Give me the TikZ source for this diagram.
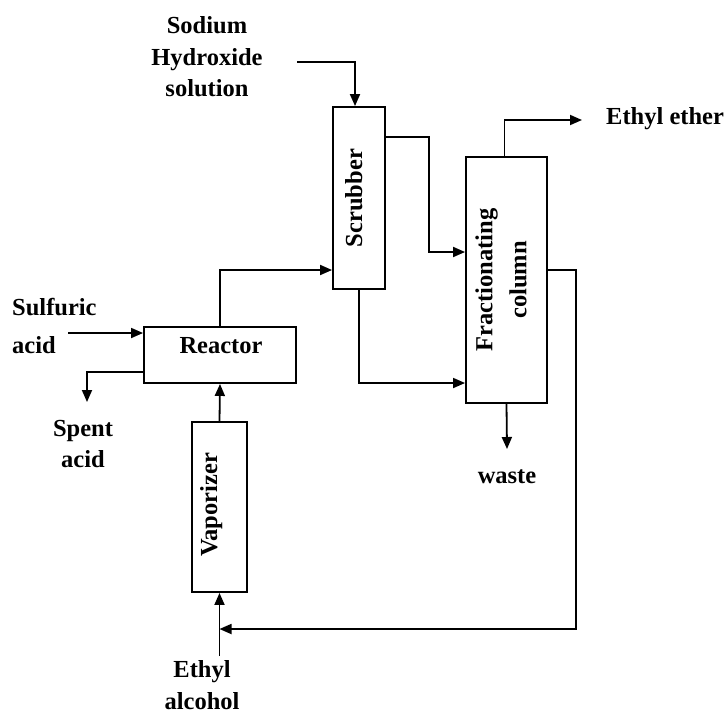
\documentclass[tikz,border=0pt]{standalone}
\usepackage{fontspec}
\setmainfont{Liberation Serif}
\usetikzlibrary{arrows.meta, calc}

\begin{document}
\begin{tikzpicture}[x=1pt, y=-1pt,
    every node/.style={font=\fontsize{24.5pt}{31.5pt}\selectfont\bfseries, inner sep=0pt},
    unit/.style={draw, line width=1.9pt},
    pipe/.style={line width=1.8pt},
    flow/.style={pipe, -{Triangle[length=12pt, width=10pt]}}
]
\useasboundingbox (0,0) rectangle (727,713);

% Process units
\node[unit, minimum width=52pt, minimum height=182pt] (scrubber) at (359,198) {};
\node[unit, minimum width=81pt, minimum height=246pt] (column) at (506.5,280) {};
\node[unit, minimum width=152pt, minimum height=56pt] (reactor) at (220,355) {};
\node[unit, minimum width=55pt, minimum height=170pt] (vaporizer) at (219.5,507) {};

% Unit labels
\node[rotate=90, anchor=base] (scrubberlbl) at (362,198) {Scrubber};
\node[rotate=90, align=center] (columnlbl) at (501,280) {Fractionating\\[2.5pt]column};
\node[anchor=base] (reactorlbl) at (221,353) {Reactor};
\node[rotate=90, anchor=base] (vaporizerlbl) at (217,505) {Vaporizer};

% Stream labels
\node[align=center] (naoh) at (207,57) {Sodium\\Hydroxide\\solution};
\node[anchor=base west] (ether) at (606,124) {Ethyl ether};
\node[align=left, anchor=west] (sulfuric) at (12,325.5) {Sulfuric\\[6.5pt]acid};
\node[align=center] (spent) at (83,444) {Spent\\acid};
\node[anchor=base] (waste) at (507,483) {waste};
\node[align=center] (alcohol) at (202,685) {Ethyl\\alcohol};

% Feeds
\coordinate (naohin) at (297,62);
\draw[flow] (naohin) -| ([xshift=-4pt]scrubber.north);
\coordinate (acidin) at (68,333);
\draw[flow] (acidin) -- (acidin -| reactor.west);
\coordinate (alcoholin) at (219.5,656);
\draw[flow] (alcoholin) -- (vaporizer.south);

% Reactor train
\draw[flow] (vaporizer.north) -- (reactor.south);
\coordinate (spentout) at (87,402);
\draw[flow] ([yshift=-17pt]reactor.west) -| (spentout);
\draw[flow] (reactor.north) |- ([yshift=-72pt]scrubber.west);

% Scrubber to column
\draw[flow] ([yshift=61pt]scrubber.east) -- ++(43,0) |- ([yshift=28pt]column.west);
\draw[flow] (scrubber.south) |- ([yshift=-103pt]column.west);

% Column products
\coordinate (etherout) at (582,120);
\draw[flow] ([xshift=-2pt]column.north) |- (etherout);
\draw[flow] (column.south) -- ([yshift=20pt]waste.north);

% Recycle to vaporizer feed
\coordinate (recycle) at (219.5,629);
\draw[flow] ([yshift=10pt]column.east) -- ++(28,0) |- (recycle);

\end{tikzpicture}
\end{document}
